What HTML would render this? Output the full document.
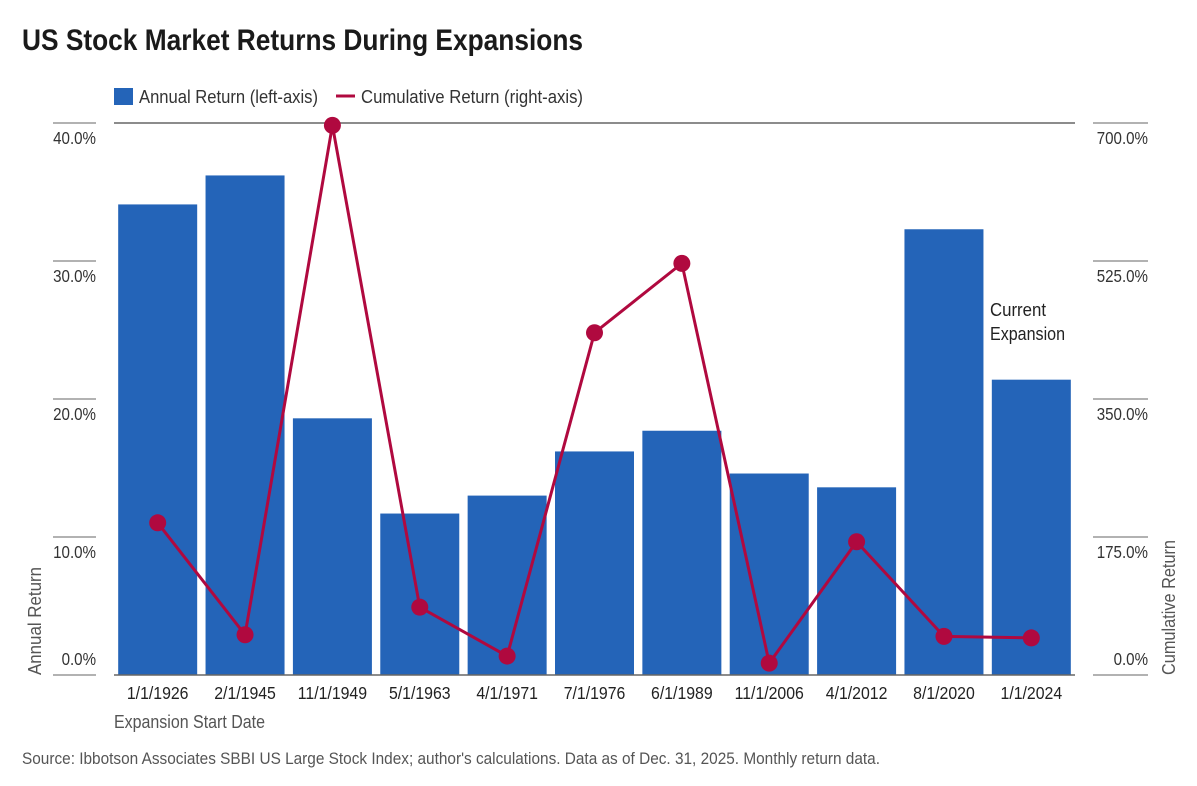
<!DOCTYPE html>
<html><head><meta charset="utf-8"><style>
body{margin:0;background:#fff;width:1197px;height:781px;overflow:hidden;font-family:"Liberation Sans",sans-serif;}
svg text{font-family:"Liberation Sans",sans-serif;}
</style></head><body>
<svg id="chart" width="1197" height="781" xmlns="http://www.w3.org/2000/svg">
<text x="22" y="50" font-size="30" font-weight="bold" fill="#1a1a1a" textLength="561" lengthAdjust="spacingAndGlyphs">US Stock Market Returns During Expansions</text>
<g>
<rect x="114" y="88" width="19" height="17" fill="#2464b8"/>
<text x="139" y="103" font-size="18" fill="#333" textLength="179" lengthAdjust="spacingAndGlyphs">Annual Return (left-axis)</text>
<line x1="336" y1="96" x2="355" y2="96" stroke="#b0093f" stroke-width="3"/>
<text x="361" y="103" font-size="18" fill="#333" textLength="222" lengthAdjust="spacingAndGlyphs">Cumulative Return (right-axis)</text>
</g>
<g id="plot"></g>
<text x="114" y="728" font-size="18" fill="#555" textLength="151" lengthAdjust="spacingAndGlyphs">Expansion Start Date</text>
<text transform="translate(41,675) rotate(-90)" font-size="18" fill="#555" textLength="108" lengthAdjust="spacingAndGlyphs">Annual Return</text>
<text transform="translate(1175,675) rotate(-90)" font-size="18" fill="#555" textLength="135" lengthAdjust="spacingAndGlyphs">Cumulative Return</text>
<text font-size="18" fill="#222"><tspan x="990" y="316" textLength="56" lengthAdjust="spacingAndGlyphs">Current</tspan><tspan x="990" y="340" textLength="75" lengthAdjust="spacingAndGlyphs">Expansion</tspan></text>
<text x="22" y="764" font-size="17" fill="#555" textLength="858" lengthAdjust="spacingAndGlyphs">Source: Ibbotson Associates SBBI US Large Stock Index; author's calculations. Data as of Dec. 31, 2025. Monthly return data.</text>
</svg>
<script>
const categories=["1/1/1926","2/1/1945","11/1/1949","5/1/1963","4/1/1971","7/1/1976","6/1/1989","11/1/2006","4/1/2012","8/1/2020","1/1/2024"];
const annualReturn=[34.1,36.2,18.6,11.7,13.0,16.2,17.7,14.6,13.6,32.3,21.4];
const cumulativeReturn=[193,51,697,86,24,434,522,15,169,49,47];
const leftTicks=[0,10,20,30,40];
const rightTicks=[0,175,350,525,700];
const NS="http://www.w3.org/2000/svg";
const g=document.getElementById('plot');
const x0=114,x1=1075,yB=675,yT=123;
const step=(x1-x0)/categories.length;
const yL=v=>yB-(v/40)*(yB-yT);
const yR=v=>yB-(v/700)*(yB-yT);
const xc=i=>x0+step*(i+0.5);
function mk(t,a){const e=document.createElementNS(NS,t);for(const k in a)e.setAttribute(k,a[k]);g.appendChild(e);return e;}
function txt(x,y,s,anchor,sx,fill){const e=mk('text',{transform:'translate('+x+','+y+') scale('+sx+',1)','text-anchor':anchor,'font-size':18,fill:fill});e.textContent=s;return e;}
annualReturn.forEach((v,i)=>{
 const r=mk('rect',{x:xc(i)-39.5,y:yL(v),width:79,height:yB-yL(v),fill:'#2464b8'});
 
 
});
let l=mk('line',{x1:x0,y1:yT,x2:x1,y2:yT,stroke:'#666','stroke-width':1.5});


l=mk('line',{x1:x0,y1:yB,x2:x1,y2:yB,stroke:'#666','stroke-width':1.5});


leftTicks.forEach(v=>{
 const y=yL(v);
 const t=mk('line',{x1:53,y1:y,x2:96,y2:y,stroke:'#666','stroke-width':1});
 
 
 const tx=txt(96,v===0?y-10:y+21,v.toFixed(1)+'%','end',0.84,'#333');
 
 
});
rightTicks.forEach(v=>{
 const y=yR(v);
 const t=mk('line',{x1:1093,y1:y,x2:1148,y2:y,stroke:'#666','stroke-width':1});
 
 
 const tx=txt(1148,v===0?y-10:y+21,v.toFixed(1)+'%','end',0.84,'#333');
 
 
});
categories.forEach((c,i)=>{
 const tx=txt(xc(i),699,c,'middle',0.88,'#222');
 
 
});
const pts=cumulativeReturn.map((v,i)=>xc(i)+','+yR(v)).join(' ');
const pl=mk('polyline',{points:pts,fill:'none',stroke:'#b0093f','stroke-width':3});


cumulativeReturn.forEach((v,i)=>{
 const c=mk('circle',{cx:xc(i),cy:yR(v),r:8.5,fill:'#b0093f'});
 
 
});
</script>
</body></html>
